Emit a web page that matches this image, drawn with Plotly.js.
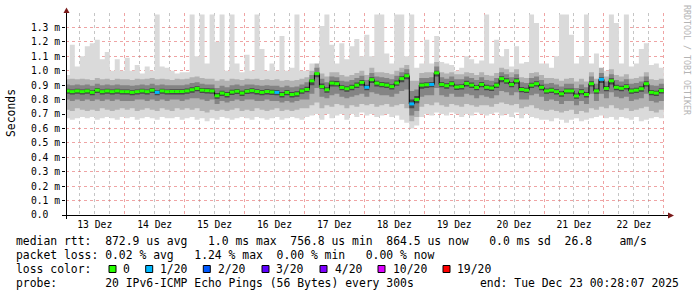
<!DOCTYPE html>
<html><head><meta charset="utf-8">
<script src="https://cdn.plot.ly/plotly-3.0.1.min.js"></script>
<style>html,body{margin:0;padding:0;background:#fff}</style>
</head><body><div id="chart" style="width:697px;height:297px"></div>
<script>
// ---------------- data ----------------
const startUTC = Date.UTC(2025, 11, 13, 0, 0, 0);   // first 2-hour bin
const stepHours = 2;
const rangeStart = '2025-12-13 00:28:07';
const rangeEnd = '2025-12-23 00:28:07';
const dayTickFormat = '%d Dez';

const yTickVals = [0, 0.1, 0.2, 0.3, 0.4, 0.5, 0.6, 0.7, 0.8, 0.9, 1.0, 1.1, 1.2, 1.3];
const yTickText = ['0.0', '0.1 m', '0.2 m', '0.3 m', '0.4 m', '0.5 m', '0.6 m', '0.7 m', '0.8 m', '0.9 m', '1.0 m', '1.1 m', '1.2 m', '1.3 m'];

// median rtt (ms), 2-hour bins from 13 Dez 00:00
const median = [
 0.86,0.855,0.86,0.855,0.86,0.85,0.865,0.855,0.86,0.855,0.86,0.855,
 0.855,0.85,0.855,0.86,0.855,0.865,0.85,0.86,0.855,0.856,0.856,0.856,
 0.86,0.868,0.877,0.865,0.862,0.86,0.826,0.845,0.835,0.852,0.858,0.845,
 0.858,0.862,0.856,0.85,0.856,0.852,0.85,0.835,0.85,0.835,0.84,0.86,
 0.87,0.93,0.98,0.89,0.868,0.914,0.91,0.884,0.875,0.885,0.9,0.919,
 0.885,0.938,0.914,0.905,0.9,0.89,0.915,0.945,0.965,0.77,0.8,0.9,
 0.903,0.905,0.985,0.905,0.896,0.91,0.887,0.89,0.912,0.9,0.884,0.905,
 0.885,0.88,0.9,0.945,0.93,0.905,0.93,0.87,0.865,0.9,0.91,0.885,
 0.86,0.865,0.855,0.84,0.86,0.86,0.825,0.855,0.835,0.91,0.86,0.94,
 0.877,0.93,0.885,0.878,0.89,0.86,0.865,0.875,0.91,0.85,0.845,0.862
];
// lost pings out of 20 per bin
const lossCount = [
 0,0,0,0,0,0,0,0,0,0,0,0,
 0,0,0,0,0,0,1,0,0,0,0,0,
 0,0,0,0,0,0,0,0,0,0,0,0,
 0,0,0,0,0,0,1,0,0,0,0,0,
 0,0,0,0,0,0,0,0,0,0,0,0,
 1,0,0,0,0,0,0,0,0,1,0,0,
 0,1,0,0,0,0,0,0,0,0,0,0,
 0,0,0,0,0,0,0,0,0,0,0,0,
 0,0,0,0,0,0,0,0,0,0,0,1,
 0,0,0,0,0,0,0,0,0,0,0,0
];
// smoke: ping distribution per bin (ms)
const pingMax = [
 0.97,1.18,1.03,1.10,1.17,1.19,1.215,1.08,1.13,1.0,1.08,1.0,
 1.09,1.0,1.04,0.98,1.03,1.0,1.39,1.03,1.02,1.0,0.98,0.99,
 0.99,1.39,1.1,1.39,1.05,1.39,1.2,1.39,1.0,1.39,1.05,0.99,
 1.11,1.0,1.39,1.15,1.0,1.05,1.0,1.24,1.0,1.02,1.39,1.0,
 1.0,1.05,1.02,1.31,1.39,1.18,1.05,1.19,1.08,1.17,1.22,1.1,
 1.25,1.1,1.39,1.39,1.12,1.05,1.39,1.39,1.1,1.39,1.02,1.05,
 1.215,1.05,1.24,1.06,1.05,1.04,1.0,1.02,1.1,1.08,1.05,1.07,
 1.39,1.05,1.215,1.1,1.15,1.03,1.17,1.05,1.06,1.39,1.33,1.05,
 1.05,1.02,1.1,1.39,1.39,1.25,1.05,1.1,1.39,1.05,1.12,1.0,
 1.0,1.39,1.33,1.05,1.39,1.03,1.05,1.15,1.19,1.04,1.05,1.02
];
const ping90 = [
 0.94,0.945,0.94,0.945,0.94,0.935,0.95,0.94,0.945,0.935,0.945,0.94,
 0.94,0.935,0.945,0.94,0.945,0.95,0.94,0.945,0.94,0.935,0.945,0.94,
 0.945,0.955,0.96,0.95,0.945,0.945,0.93,0.94,0.93,0.945,0.94,0.935,
 0.945,0.94,0.945,0.935,0.94,0.935,0.94,0.93,0.935,0.93,0.935,0.945,
 0.955,1.0,1.05,0.98,0.96,0.99,0.99,0.97,0.96,0.97,0.985,1.0,
 0.97,1.02,0.99,0.99,0.985,0.975,1.0,1.02,1.04,0.93,0.93,0.985,
 0.99,0.99,1.06,0.99,0.98,0.99,0.975,0.975,0.99,0.985,0.97,0.99,
 0.97,0.965,0.985,1.02,1.01,0.99,1.01,0.955,0.95,0.985,0.99,0.97,
 0.95,0.95,0.945,0.93,0.945,0.95,0.925,0.945,0.925,0.99,0.945,1.02,
 0.96,1.01,0.97,0.96,0.975,0.945,0.95,0.96,0.99,0.94,0.935,0.945
];
const ping75 = [
 0.905,0.9,0.905,0.9,0.905,0.895,0.91,0.9,0.905,0.9,0.905,0.9,
 0.9,0.895,0.9,0.905,0.9,0.91,0.9,0.905,0.9,0.9,0.9,0.9,
 0.905,0.915,0.92,0.91,0.905,0.905,0.88,0.895,0.885,0.9,0.905,0.895,
 0.905,0.905,0.9,0.895,0.9,0.895,0.895,0.885,0.895,0.885,0.89,0.905,
 0.92,0.97,1.02,0.945,0.92,0.96,0.955,0.93,0.925,0.935,0.95,0.965,
 0.935,0.985,0.96,0.955,0.95,0.94,0.965,0.99,1.01,0.86,0.87,0.95,
 0.95,0.955,1.03,0.955,0.945,0.96,0.94,0.94,0.96,0.95,0.935,0.955,
 0.935,0.93,0.95,0.99,0.975,0.955,0.975,0.92,0.915,0.95,0.96,0.935,
 0.91,0.915,0.905,0.89,0.91,0.91,0.88,0.905,0.885,0.96,0.91,0.985,
 0.925,0.975,0.935,0.925,0.94,0.91,0.915,0.925,0.96,0.9,0.895,0.91
];
const ping60 = [
 0.875,0.87,0.875,0.87,0.875,0.865,0.88,0.87,0.875,0.87,0.875,0.87,
 0.87,0.865,0.87,0.875,0.87,0.88,0.865,0.875,0.87,0.872,0.872,0.872,
 0.876,0.885,0.893,0.88,0.878,0.876,0.845,0.862,0.852,0.868,0.874,0.862,
 0.874,0.878,0.872,0.866,0.872,0.868,0.866,0.852,0.866,0.852,0.857,0.876,
 0.888,0.94,0.99,0.912,0.886,0.93,0.928,0.9,0.892,0.902,0.918,0.935,
 0.903,0.955,0.93,0.922,0.918,0.907,0.932,0.962,0.98,0.8,0.825,0.917,
 0.92,0.922,1.0,0.922,0.913,0.927,0.904,0.907,0.93,0.918,0.9,0.922,
 0.902,0.897,0.918,0.962,0.947,0.922,0.947,0.887,0.882,0.917,0.927,0.902,
 0.877,0.882,0.872,0.857,0.877,0.877,0.842,0.872,0.852,0.927,0.877,0.955,
 0.894,0.947,0.902,0.895,0.907,0.877,0.882,0.892,0.927,0.867,0.862,0.879
];
const ping40 = [
 0.84,0.835,0.84,0.835,0.84,0.83,0.845,0.835,0.84,0.835,0.84,0.835,
 0.835,0.83,0.835,0.84,0.835,0.845,0.83,0.84,0.835,0.836,0.836,0.836,
 0.84,0.848,0.857,0.845,0.842,0.84,0.806,0.825,0.815,0.832,0.838,0.825,
 0.838,0.842,0.836,0.83,0.836,0.832,0.83,0.815,0.83,0.815,0.82,0.84,
 0.85,0.9,0.955,0.875,0.848,0.89,0.89,0.864,0.855,0.865,0.88,0.895,
 0.865,0.915,0.89,0.885,0.88,0.87,0.895,0.92,0.94,0.74,0.775,0.875,
 0.88,0.885,0.96,0.885,0.875,0.89,0.867,0.87,0.89,0.88,0.864,0.885,
 0.865,0.86,0.88,0.92,0.91,0.885,0.91,0.85,0.845,0.88,0.89,0.865,
 0.84,0.845,0.835,0.82,0.84,0.84,0.805,0.835,0.815,0.89,0.84,0.915,
 0.857,0.905,0.865,0.858,0.87,0.84,0.845,0.855,0.89,0.83,0.825,0.842
];
const ping25 = [
 0.8,0.79,0.8,0.79,0.8,0.79,0.8,0.79,0.8,0.79,0.8,0.79,
 0.79,0.79,0.8,0.8,0.79,0.8,0.79,0.8,0.79,0.8,0.8,0.79,
 0.8,0.81,0.81,0.8,0.79,0.8,0.77,0.79,0.78,0.79,0.8,0.79,
 0.8,0.8,0.79,0.79,0.8,0.79,0.79,0.78,0.79,0.78,0.79,0.8,
 0.8,0.84,0.88,0.82,0.81,0.83,0.84,0.82,0.81,0.82,0.83,0.84,
 0.82,0.85,0.84,0.83,0.83,0.82,0.84,0.86,0.87,0.69,0.72,0.82,
 0.83,0.83,0.88,0.83,0.82,0.84,0.82,0.82,0.84,0.83,0.81,0.83,
 0.82,0.81,0.83,0.86,0.85,0.83,0.85,0.8,0.8,0.83,0.84,0.82,
 0.79,0.8,0.79,0.77,0.79,0.79,0.76,0.79,0.77,0.84,0.79,0.84,
 0.81,0.85,0.82,0.81,0.82,0.79,0.8,0.81,0.84,0.79,0.78,0.79
];
const ping10 = [
 0.73,0.72,0.74,0.73,0.72,0.73,0.72,0.74,0.73,0.72,0.73,0.74,
 0.73,0.74,0.72,0.73,0.74,0.73,0.72,0.74,0.73,0.72,0.74,0.73,
 0.74,0.73,0.74,0.72,0.71,0.73,0.72,0.73,0.72,0.73,0.74,0.72,
 0.73,0.72,0.74,0.73,0.72,0.73,0.74,0.72,0.73,0.72,0.73,0.74,
 0.74,0.76,0.78,0.74,0.76,0.75,0.77,0.76,0.74,0.76,0.75,0.77,
 0.76,0.77,0.75,0.76,0.77,0.75,0.76,0.77,0.74,0.65,0.68,0.75,
 0.77,0.76,0.78,0.76,0.75,0.77,0.76,0.75,0.77,0.76,0.75,0.76,
 0.76,0.75,0.77,0.78,0.77,0.76,0.77,0.74,0.75,0.76,0.74,0.73,
 0.72,0.73,0.72,0.71,0.72,0.73,0.7,0.72,0.71,0.74,0.73,0.75,
 0.74,0.76,0.74,0.73,0.74,0.72,0.73,0.74,0.75,0.72,0.71,0.73
];
const pingMin = [
 0.67,0.66,0.67,0.68,0.67,0.68,0.66,0.67,0.68,0.67,0.66,0.68,
 0.67,0.68,0.66,0.67,0.68,0.67,0.66,0.68,0.67,0.67,0.68,0.66,
 0.67,0.68,0.66,0.67,0.65,0.67,0.66,0.68,0.67,0.66,0.67,0.68,
 0.67,0.66,0.68,0.67,0.66,0.67,0.68,0.66,0.67,0.68,0.67,0.66,
 0.68,0.69,0.70,0.66,0.70,0.67,0.69,0.70,0.66,0.70,0.68,0.71,
 0.69,0.70,0.68,0.69,0.70,0.68,0.69,0.66,0.64,0.60,0.62,0.68,
 0.70,0.69,0.71,0.70,0.69,0.71,0.70,0.68,0.70,0.69,0.71,0.70,
 0.69,0.70,0.71,0.69,0.70,0.68,0.71,0.67,0.70,0.68,0.67,0.66,
 0.66,0.65,0.67,0.66,0.64,0.66,0.67,0.65,0.66,0.67,0.68,0.69,
 0.67,0.68,0.66,0.68,0.67,0.66,0.68,0.65,0.66,0.67,0.68,0.67
];

const lossLevels = [0, 1, 2, 3, 4, 10, 19];
const lossLabels = ['0', '1/20', '2/20', '3/20', '4/20', '10/20', '19/20'];
const lossColors = ['#26ff00', '#00b8ff', '#0059ff', '#5e00ff', '#7e00ff', '#dd00ff', '#ff0000'];

const statsLine1 = 'median rtt:  872.9 us avg   1.0 ms max  756.8 us min  864.5 us now   0.0 ms sd  26.8    am/s';
const statsLine2 = 'packet loss: 0.02 % avg   1.24 % max  0.00 % min   0.00 % now';
const lossTitle = 'loss color:';
const probeLine = 'probe:       20 IPv6-ICMP Echo Pings (56 Bytes) every 300s';
const endLine = 'end: Tue Dec 23 00:28:07 2025';
const yTitle = 'Seconds';
const watermark = 'RRDTOOL / TOBI OETIKER';

// ---------------- build ----------------
const N = median.length;
function tstr(ms) { return new Date(ms).toISOString().replace('T', ' ').slice(0, 19); }
const xs = [];
for (let i = 0; i <= N; i++) xs.push(tstr(startUTC + i * stepHours * 3600e3));
const ext = a => a.concat([a[a.length - 1]]);

const traces = [];
const bands = [
  [pingMin, pingMax, '#dadada'],
  [ping10, ping90, '#b2b2b2'],
  [ping25, ping75, '#848484'],
  [ping40, ping60, '#484848']
];
bands.forEach(([lo, hi, col]) => {
  traces.push({x: xs, y: ext(lo), type: 'scatter', mode: 'lines', line: {width: 0, shape: 'hv'}, hoverinfo: 'skip', showlegend: false});
  traces.push({x: xs, y: ext(hi), type: 'scatter', mode: 'lines', line: {width: 0, shape: 'hv'}, fill: 'tonexty', fillcolor: col, hoverinfo: 'skip', showlegend: false});
});
// median connector
traces.push({x: xs, y: ext(median), type: 'scatter', mode: 'lines', line: {width: 1, shape: 'hv', color: '#000'}, hoverinfo: 'skip', showlegend: false});
// median steps coloured by loss
function levelIdx(c) { let k = 0; lossLevels.forEach((l, j) => { if (c >= l) k = j; }); return k; }
lossLevels.forEach((lv, j) => {
  const sx = [], sy = [];
  for (let i = 0; i < N; i++) {
    if (levelIdx(lossCount[i]) === j) { sx.push(xs[i], xs[i + 1], null); sy.push(median[i], median[i], null); }
  }
  if (sx.length) traces.push({x: sx, y: sy, type: 'scatter', mode: 'lines', line: {width: 3, color: lossColors[j]}, connectgaps: false, hoverinfo: 'skip', showlegend: false});
});

// pixel -> paper helpers (plot area 66..665 x 13..215)
const PL = 66, PT = 13, PW = 599, PH = 202;
const px = v => (v - PL) / PW;
const py = v => (PT + PH - v) / PH;
const nb = s => s.replace(/ /g, '\u00a0');
const mono = 'DejaVu Sans Mono';
const FS = 11.4;

const annotations = [];
const textAt = (x, y, t, size, extra) => annotations.push(Object.assign({xref: 'paper', yref: 'paper', x: px(x), y: py(y), text: nb(t), showarrow: false, xanchor: 'left', yanchor: 'middle', font: {family: mono, size: size, color: '#000'}}, extra || {}));
textAt(14, 241.5, statsLine1, FS);
textAt(14, 255.2, statsLine2, FS);
textAt(14, 269, lossTitle, FS);
textAt(14, 282.7, probeLine, FS);
textAt(681, 282.7, endLine, FS, {xanchor: 'right'});
textAt(11, 113, yTitle, FS, {xanchor: 'center', textangle: -90});
textAt(687, 60, watermark, 8.3, {xanchor: 'center', textangle: 90, font: {family: mono, size: 8.3, color: '#b4b4b4'}});

const shapes = [];
const sqX = [109, 145.7, 203.3, 262, 320, 378, 443];
const lbX = [121, 158, 216, 274, 333, 391, 455];
lossLevels.forEach((lv, j) => {
  shapes.push({type: 'rect', xref: 'paper', yref: 'paper', x0: px(sqX[j]), x1: px(sqX[j] + 7), y0: py(272.5), y1: py(265.5), fillcolor: lossColors[j], line: {color: '#000', width: 1}});
  textAt(lbX[j], 269, lossLabels[j], FS);
});
// axis lines and arrows
shapes.push({type: 'line', xref: 'paper', yref: 'paper', x0: px(66.5), x1: px(66.5), y0: py(219), y1: py(11), line: {color: '#000', width: 1}, layer: 'above'});
shapes.push({type: 'line', xref: 'paper', yref: 'paper', x0: px(62), x1: px(669), y0: py(215.5), y1: py(215.5), line: {color: '#000', width: 1}, layer: 'above'});
shapes.push({type: 'path', xref: 'paper', yref: 'paper', path: `M ${px(63.5)} ${py(13)} L ${px(69.5)} ${py(13)} L ${px(66.5)} ${py(7.5)} Z`, fillcolor: '#7a1a1a', line: {width: 0}, layer: 'above'});
shapes.push({type: 'path', xref: 'paper', yref: 'paper', path: `M ${px(668)} ${py(212.5)} L ${px(668)} ${py(218.5)} L ${px(674)} ${py(215.5)} Z`, fillcolor: '#7a1a1a', line: {width: 0}, layer: 'above'});

const layout = {
  width: 697, height: 297,
  margin: {l: PL, r: 697 - PL - PW, t: PT, b: 297 - PT - PH, pad: 0},
  paper_bgcolor: '#ffffff', plot_bgcolor: '#ffffff',
  showlegend: false,
  font: {family: mono, size: 9.7, color: '#000'},
  xaxis: {
    type: 'date', range: [rangeStart, rangeEnd],
    tick0: '2025-12-13', dtick: 86400000, tickformat: dayTickFormat, ticklabelmode: 'period',
    showgrid: true, gridcolor: 'rgba(225,90,90,0.55)', griddash: 'dot', gridwidth: 1,
    minor: {dtick: 21600000, showgrid: true, gridcolor: 'rgba(150,150,150,0.55)', griddash: 'dot', gridwidth: 1},
    ticks: '', ticklabelstandoff: 2, zeroline: false, showline: false, tickfont: {family: mono, size: 9.7, color: '#000'},
    fixedrange: true
  },
  yaxis: {
    range: [0, 1.4], tickmode: 'array', tickvals: yTickVals, ticktext: yTickText.map(t => nb((t + '  ').slice(0, 5))),
    showgrid: true, gridcolor: 'rgba(225,90,90,0.55)', griddash: 'dot', gridwidth: 1,
    ticks: 'outside', ticklen: 3, tickcolor: '#000', zeroline: false, showline: false,
    tickfont: {family: mono, size: 9.7, color: '#000'}, fixedrange: true
  },
  annotations: annotations,
  shapes: shapes
};
Plotly.newPlot('chart', traces, layout, {staticPlot: true, displayModeBar: false});
</script></body></html>
